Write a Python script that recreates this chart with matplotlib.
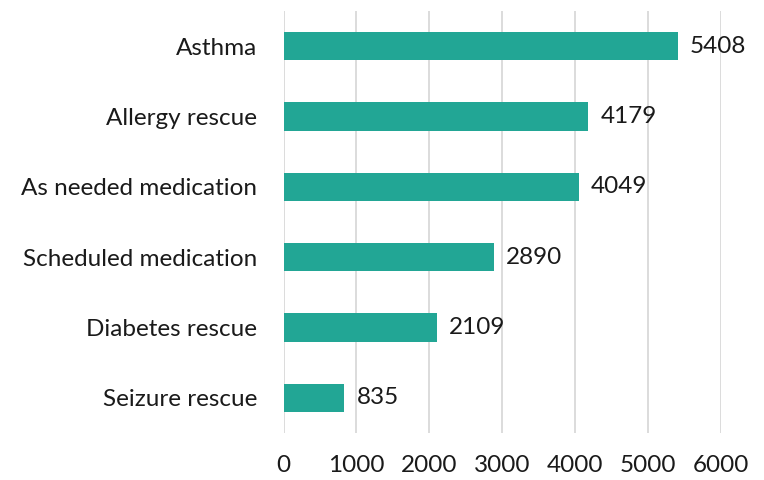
import matplotlib
matplotlib.use("Agg")
import matplotlib.pyplot as plt

categories = ["Asthma", "Allergy rescue", "As needed medication",
              "Scheduled medication", "Diabetes rescue", "Seizure rescue"]
counts = [5408, 4179, 4049, 2890, 2109, 835]
xticks = [0, 1000, 2000, 3000, 4000, 5000, 6000]

plt.rcParams['font.family'] = ['Lato', 'DejaVu Sans']

fig = plt.figure(figsize=(7.64, 4.8), dpi=100)
ax = fig.add_axes([283.5 / 764, 1 - 433 / 480, (721 - 283.5) / 764, 422 / 480])

ypos = list(range(len(categories)))
ax.barh(ypos, counts, height=0.4, color="#22A695", zorder=3)
for y, v in zip(ypos, counts):
    ax.text(v + 165, y, str(v), va="center", ha="left", fontsize=17.5, color="#1a1a1a")

ax.set_yticks(ypos)
ax.set_yticklabels(categories, fontsize=17.5, color="#1a1a1a")
ax.set_ylim(len(categories) - 0.5, -0.5)
ax.set_xlim(0, 6000)
ax.set_xticks(xticks)
ax.set_xticklabels([str(t) for t in xticks], fontsize=17.5, color="#1a1a1a")
ax.tick_params(axis="both", length=0)
ax.tick_params(axis="y", pad=19)
ax.tick_params(axis="x", pad=16)
ax.grid(axis="x", color="#d9d9d9", linewidth=1.3, zorder=0)
for s in ax.spines.values():
    s.set_visible(False)

fig.savefig("out.png", dpi=100)
